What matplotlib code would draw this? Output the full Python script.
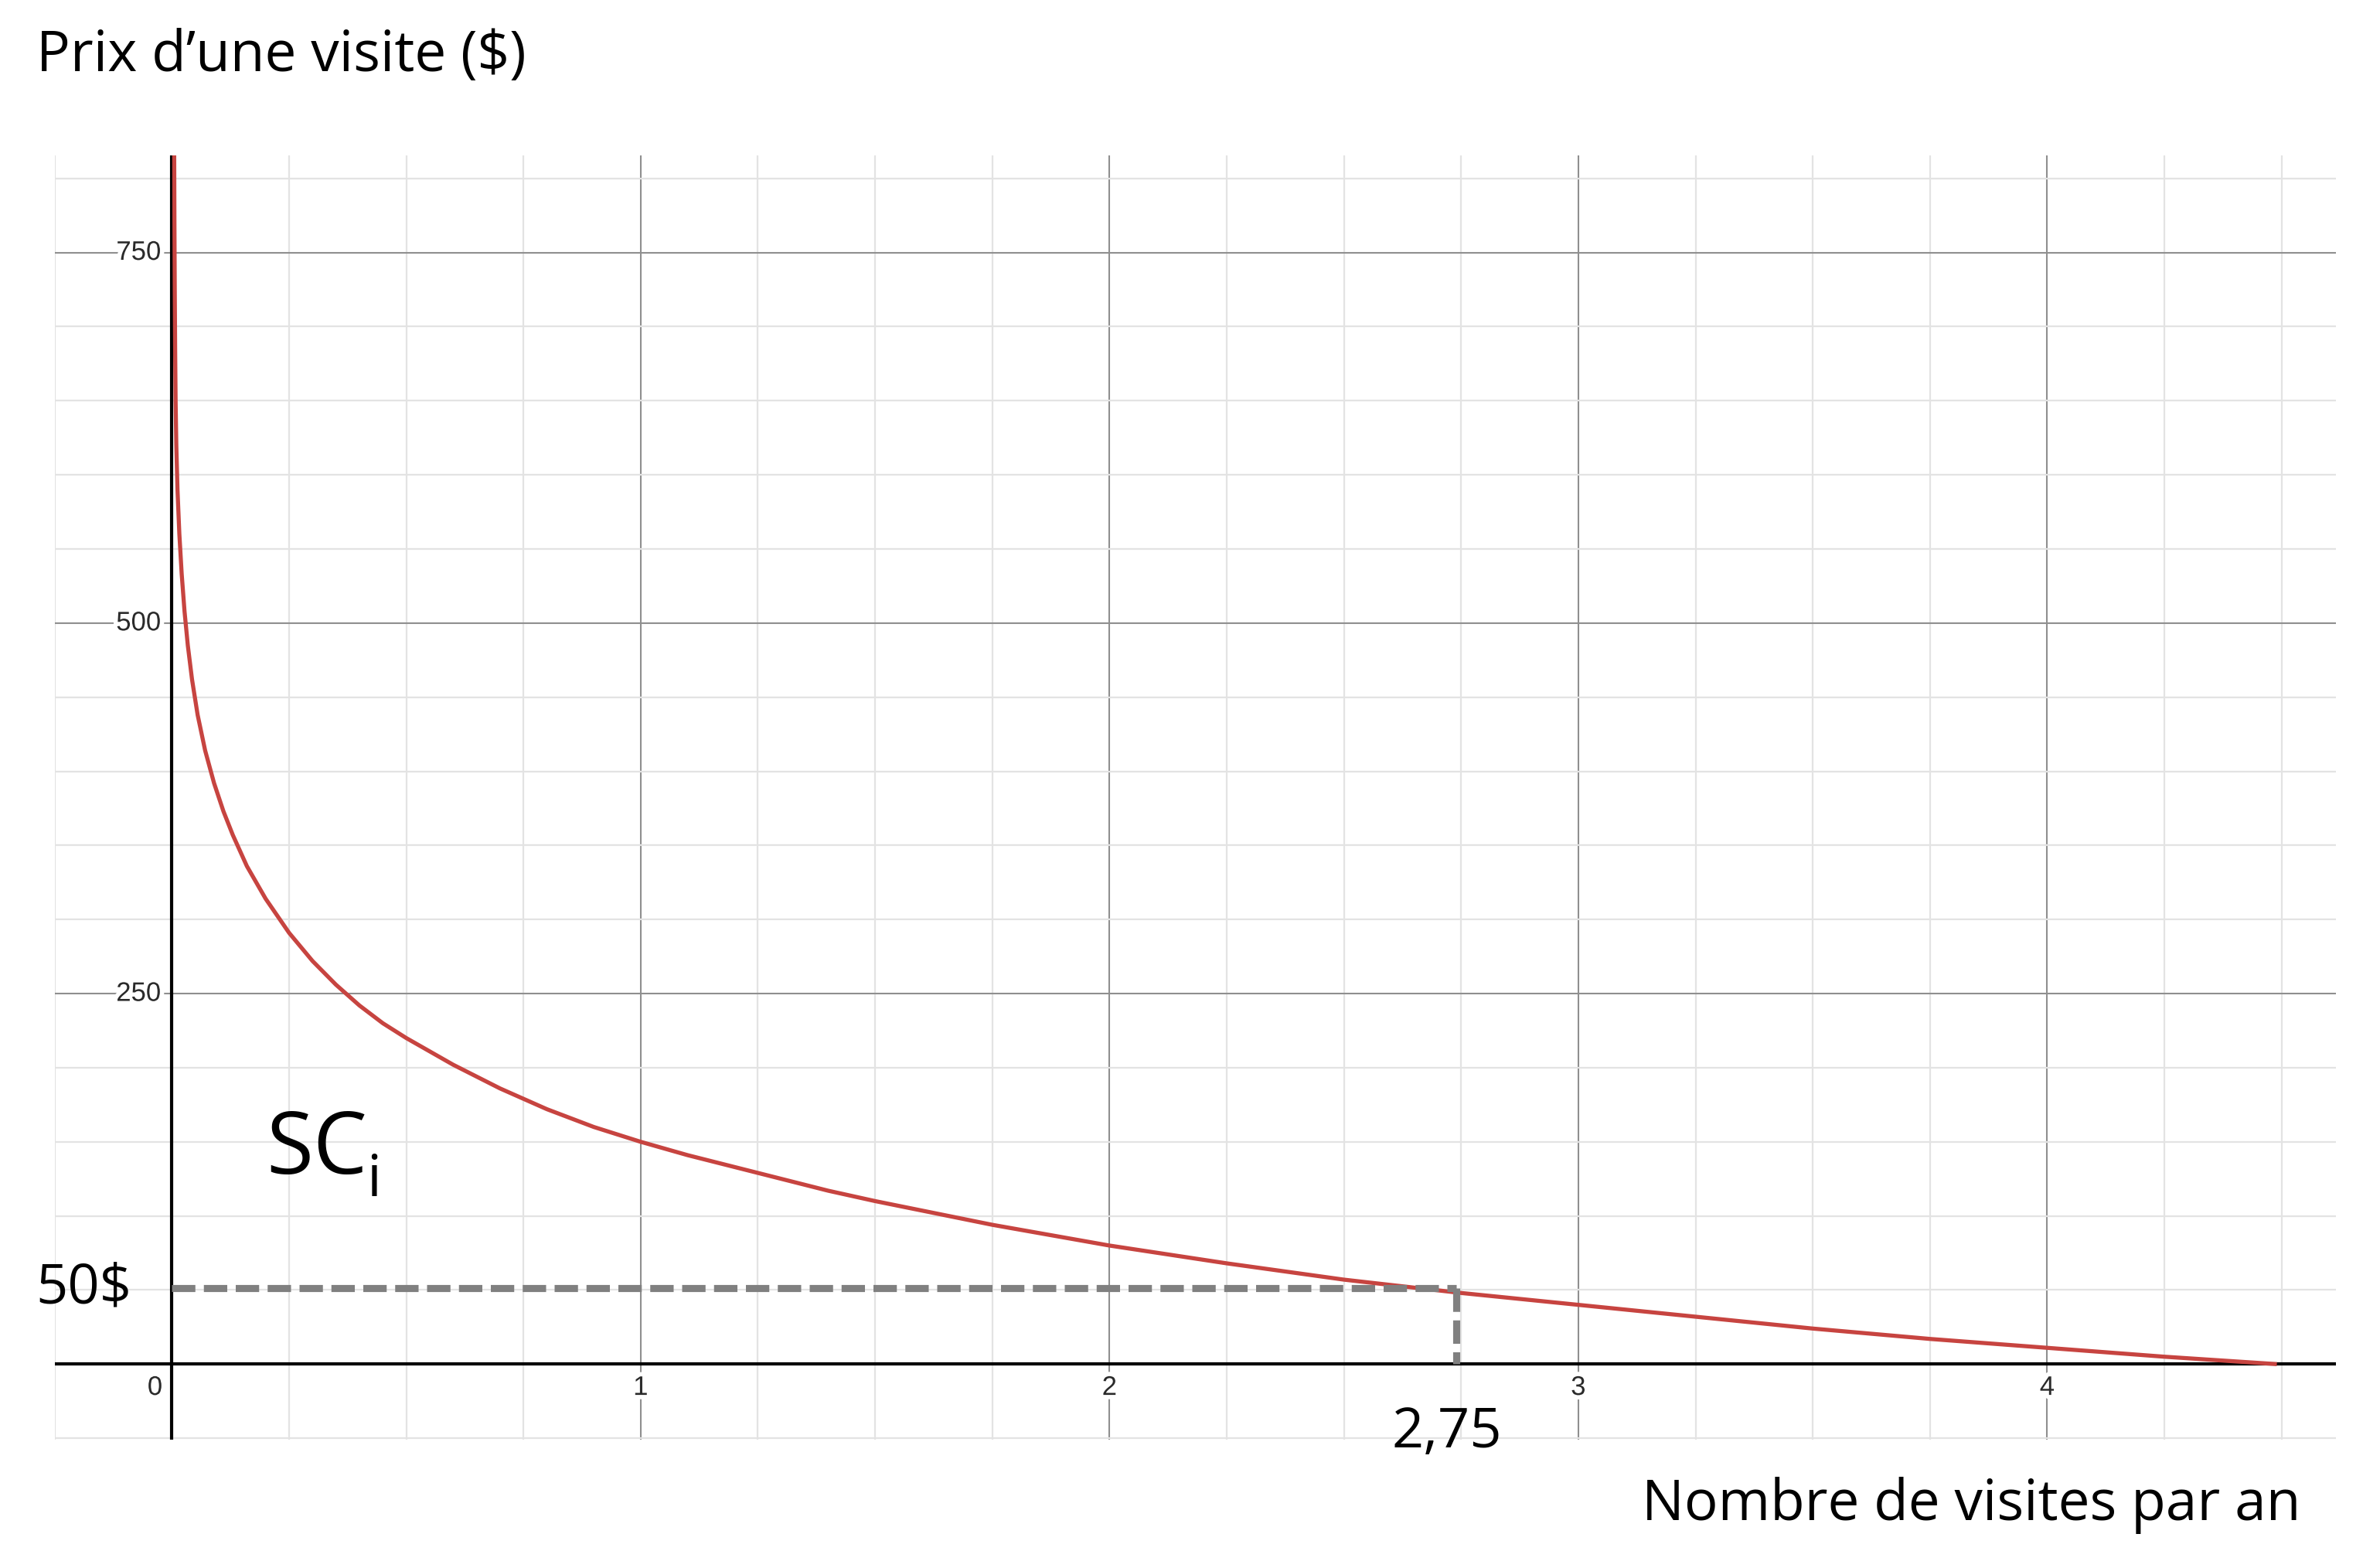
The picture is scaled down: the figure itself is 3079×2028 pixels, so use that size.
import matplotlib
matplotlib.use("Agg")
import matplotlib.pyplot as plt
import matplotlib.patheffects as pe

# ---- data ----
curve_x = [0.005, 0.0055, 0.0062, 0.007, 0.008, 0.0095, 0.012, 0.016, 0.021, 0.027,
           0.034, 0.043, 0.055, 0.071, 0.09, 0.11, 0.13, 0.16, 0.2, 0.25,
           0.3, 0.35, 0.4, 0.45, 0.5, 0.6, 0.7, 0.8, 0.9, 1.0,
           1.1, 1.25, 1.4, 1.5, 1.75, 2.0, 2.25, 2.5, 2.75, 3.0,
           3.25, 3.5, 3.75, 4.0, 4.25, 4.49]
curve_y = [816, 770, 725, 685, 650, 620, 590, 560, 533, 508,
           485, 462, 438, 414, 392, 373, 357, 336, 314, 291,
           272, 256, 242, 230, 220, 202, 186, 172, 160, 150,
           141, 129, 117, 110, 94, 80, 68, 57, 48, 40,
           32, 24, 17, 11, 5, 0]

price_level = 51.5
price_label = "50$"
quantity_level = 2.74
quantity_label = "2,75"

x_major = [0, 1, 2, 3, 4]
x_major_labels = ["0", "1", "2", "3", "4"]
y_major = [0, 250, 500, 750]
y_major_labels = ["", "250", "500", "750"]
x_minor = [-0.25 + 0.25 * i for i in range(20)]
y_minor = [-50 + 50 * i for i in range(18)]

y_title = "Prix d\u2019une visite ($)"
x_title = "Nombre de visites par an"
curve_name = "SC"
curve_sub = "i"

# ---- figure ----
W, H = 3079, 2028
fig = plt.figure(figsize=(W / 100, H / 100), dpi=100)
fig.patch.set_facecolor("white")

def fx(px):
    return px / W

def fy(py):
    return 1 - py / H

left, right, top, bottom = 70.7, 3022, 201, 1861.7
ax = fig.add_axes([fx(left), fy(bottom), fx(right) - fx(left), fy(top) - fy(bottom)])
ax.set_xlim(-0.2494, 4.616)
ax.set_ylim(-50.8, 815.5)
for s in ax.spines.values():
    s.set_visible(False)

ax.set_xticks(x_major)
ax.set_yticks(y_major)
ax.set_xticks(x_minor, minor=True)
ax.set_yticks(y_minor, minor=True)
ax.tick_params(which="both", length=0, labelbottom=False, labelleft=False)
ax.grid(which="minor", color="#e3e3e3", lw=1.6, zorder=0)
ax.grid(which="major", color="#8f8f8f", lw=1.5, zorder=1)
ax.set_axisbelow(True)

ax.axhline(0, color="black", lw=3.0, zorder=3)
ax.axvline(0, color="black", lw=3.0, zorder=3)

ax.plot(curve_x, curve_y, color="#c74440", lw=3.8, zorder=4,
        solid_capstyle="butt", solid_joinstyle="round")

dash_kw = dict(color="#808080", lw=6.6, dashes=(3.3, 1.2), zorder=5,
               solid_capstyle="butt", dash_capstyle="butt")
ax.plot([0, quantity_level], [price_level, price_level], **dash_kw)
ax.plot([quantity_level, quantity_level], [price_level, 0], **dash_kw)

# tick labels with white halo
halo = [pe.withStroke(linewidth=8, foreground="white")]
tick_kw = dict(fontfamily="Liberation Sans", fontsize=25, color="#2a2a2a", zorder=6,
               path_effects=halo)
for v, lab in zip(x_major, x_major_labels):
    if v == 0:
        ax.text(-0.02, -15.8, lab, ha="right", va="center", **tick_kw)
    else:
        ax.text(v, -15.8, lab, ha="center", va="center", **tick_kw)
for v, lab in zip(y_major, y_major_labels):
    if lab:
        ax.text(-0.023, v, lab, ha="right", va="center", **tick_kw)

# annotations
big = dict(fontfamily="Open Sans", color="black", va="baseline")
fig.text(fx(47), fy(92), y_title, fontsize=52.5, ha="left", **big)
fig.text(fx(2977), fy(1966), x_title, fontsize=52.5, ha="right", **big)
fig.text(fx(46), fy(1685), price_label, fontsize=52, ha="left", **big)
fig.text(fx(1801), fy(1872), quantity_label, fontsize=52, ha="left", **big)
fig.text(fx(344), fy(1518), curve_name, fontsize=80, ha="left", **big)
fig.text(fx(474), fy(1547), curve_sub, fontsize=54, ha="left", **big)

fig.savefig("out.png", dpi=100, facecolor="white")
